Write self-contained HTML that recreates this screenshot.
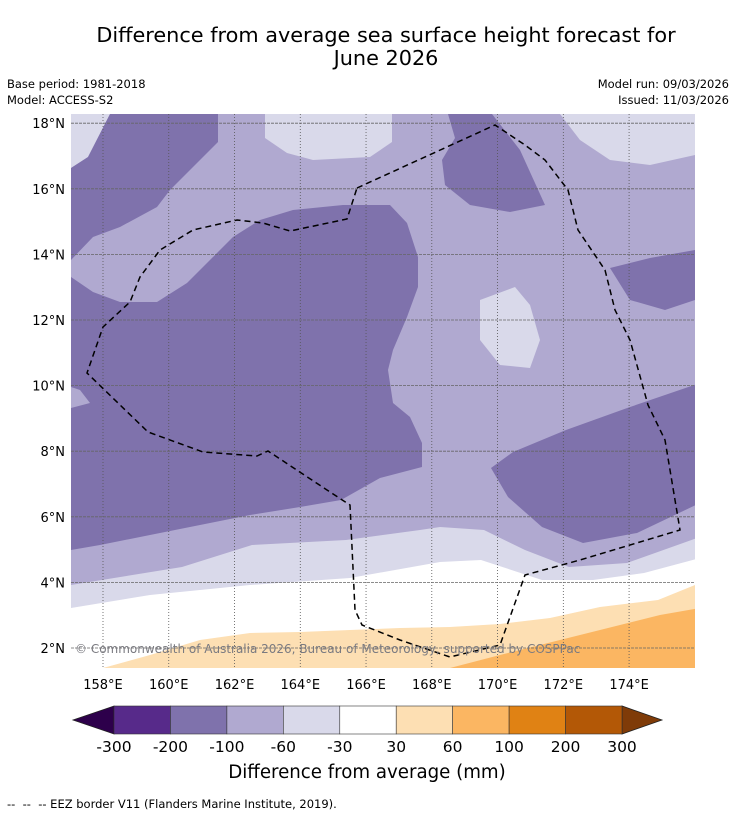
<!DOCTYPE html>
<html><head><meta charset="utf-8"><style>
body{margin:0;background:#fff;width:736px;height:816px;overflow:hidden;font-family:"DejaVu Sans","Liberation Sans",sans-serif;}
svg{position:absolute;left:0;top:0}
</style></head><body>
<svg id="chart" width="736" height="816" viewBox="0 0 736 816">
<text x="386" y="42" font-size="20.8" text-anchor="middle">Difference from average sea surface height forecast for</text>
<text x="386" y="65" font-size="20.8" text-anchor="middle">June 2026</text>
<text x="7" y="88" font-size="11.5">Base period: 1981-2018</text>
<text x="7" y="104" font-size="11.5">Model: ACCESS-S2</text>
<text x="729" y="88" font-size="11.5" text-anchor="end">Model run: 09/03/2026</text>
<text x="729" y="104" font-size="11.5" text-anchor="end">Issued: 11/03/2026</text>
<defs><clipPath id="mapclip"><rect x="71" y="114" width="624" height="554"/></clipPath></defs>
<g clip-path="url(#mapclip)">
<rect x="71" y="114" width="624" height="554" fill="#b0a9d0"/>
<polygon fill="#d9d9ea" points="71,114 110,114 88,157 71,168"/>
<polygon fill="#7f72ac" points="110,114 218,114 218,142 193,167 170,190 157,207 120,227 93,237 71,260 71,168 88,157"/>
<polygon fill="#d9d9ea" points="265,114 265,138 287,153 313,160 370,157 392,142 392,114"/>
<polygon fill="#d9d9ea" points="560,114 695,114 695,155 650,165 610,160 580,140"/>
<polygon fill="#7f72ac" points="448,114 492,114 520,150 545,205 510,212 470,205 445,185 442,160 455,138"/>
<polygon fill="#7f72ac" points="610,268 650,258 695,250 695,300 665,310 630,300"/>
<polygon fill="#d9d9ea" points="480,300 515,287 530,305 540,340 530,368 500,365 480,340"/>
<polygon fill="#7f72ac" points="71,277 93,292 120,302 157,302 187,283 213,257 233,237 260,220 293,210 343,205 390,205 407,223 418,257 418,287 407,317 393,350 388,370 393,403 410,417 422,443 422,467 380,478 341,500 300,507 250,515 200,525 150,535 100,545 71,550"/>
<polygon fill="#b0a9d0" points="71,387 80,390 90,403 71,408"/>
<polygon fill="#7f72ac" points="491,468 513,452 566,430 630,407 700,383 700,503 637,533 583,543 542,527 508,497"/>
<polygon fill="#d9d9ea" points="71,585 182,567 252,545 346,540 420,530 440,527 484,530 525,550 569,567 627,563 700,537 700,668 71,668"/>
<polygon fill="#ffffff" points="71,608 150,595 250,585 350,578 440,562 481,560 542,580 593,580 644,573 700,558 700,668 71,668"/>
<polygon fill="#fddfb3" points="103,668 150,655 200,640 250,633 300,632 350,630 400,628 450,627 500,624 550,618 600,607 658,600 700,583 700,668"/>
<polygon fill="#fbb662" points="450,668 500,655 560,640 620,625 660,615 700,608 700,668"/>
<g id="grid"></g>
<polyline fill="none" stroke="#000" stroke-width="1.5" stroke-dasharray="6,4" points="357,188 495,125 525,145 545,160 568,190 578,230 605,270 615,310 630,340 648,405 665,440 680,530 580,560 525,575 500,645 450,657 400,640 362,625 355,610 350,505 327,490 268,451 257,456 203,452 148,432 87,373 103,327 130,302 140,277 160,250 193,230 237,220 263,223 290,231 347,219 357,188"/>
<text x="75" y="653" font-size="12" fill="#7a7a80">© Commonwealth of Australia 2026, Bureau of Meteorology, supported by COSPPac</text>
</g>
<g id="axes"></g>
<g id="colorbar"></g>
<text x="367" y="778" font-size="18.2" text-anchor="middle">Difference from average (mm)</text>
<text x="7" y="808" font-size="11.5" style="white-space:pre">--  --  -- EEZ border V11 (Flanders Marine Institute, 2019).</text>
</svg>
<script>
const lonTicks=[158,160,162,164,166,168,170,172,174];
const latTicks=[2,4,6,8,10,12,14,16,18];
const cbLabels=["-300","-200","-100","-60","-30","30","60","100","200","300"];
const cbColors=["#572a8a","#7f72ac","#b0a9d0","#d9d9ea","#ffffff","#fddfb3","#fbb662","#e08214","#b35806"];
const NS="http://www.w3.org/2000/svg";
function xLon(l){return 103+(l-158)*32.88;}
function yLat(l){return 648-(l-2)*32.8;}
const grid=document.getElementById('grid'),axes=document.getElementById('axes'),cb=document.getElementById('colorbar');
function mk(tag,attrs,parent){const e=document.createElementNS(NS,tag);for(const k in attrs)e.setAttribute(k,attrs[k]);parent.appendChild(e);return e;}
lonTicks.forEach(l=>{
  const x=xLon(l);
  const g=mk('line',{x1:x,x2:x,y1:114,y2:668,stroke:'#555','stroke-width':0.8,'stroke-dasharray':'1,2'},grid);
  
  
  const t=mk('text',{x:x,y:689,'font-size':13,'text-anchor':'middle'},axes);t.textContent=l+'°E';
  
  
});
latTicks.forEach(l=>{
  const y=yLat(l);
  const g=mk('line',{x1:71,x2:695,y1:y,y2:y,stroke:'#666','stroke-width':0.8,'stroke-dasharray':'3,1'},grid);
  
  
  const t=mk('text',{x:65,y:y+5,'font-size':13,'text-anchor':'end'},axes);t.textContent=l+'°N';
  
  
});
const x0=114,x1=622,w=(x1-x0)/cbColors.length;
const lt=mk('polygon',{points:`${x0},706 ${x0},734 73,720`,fill:'#2d004b',stroke:'#222','stroke-width':0.8},cb);


const rt=mk('polygon',{points:`${x1},706 ${x1},734 662,720`,fill:'#7f3b08',stroke:'#222','stroke-width':0.8},cb);


cbColors.forEach((c,i)=>{
  const r=mk('rect',{x:x0+i*w,y:706,width:w,height:28,fill:c,stroke:'#333','stroke-width':0.6},cb);
  
  
});
cbLabels.forEach((s,i)=>{
  const t=mk('text',{x:x0+i*w,y:752,'font-size':15.5,'text-anchor':'middle'},cb);t.textContent=s;
  
  
});
</script>
</body></html>
